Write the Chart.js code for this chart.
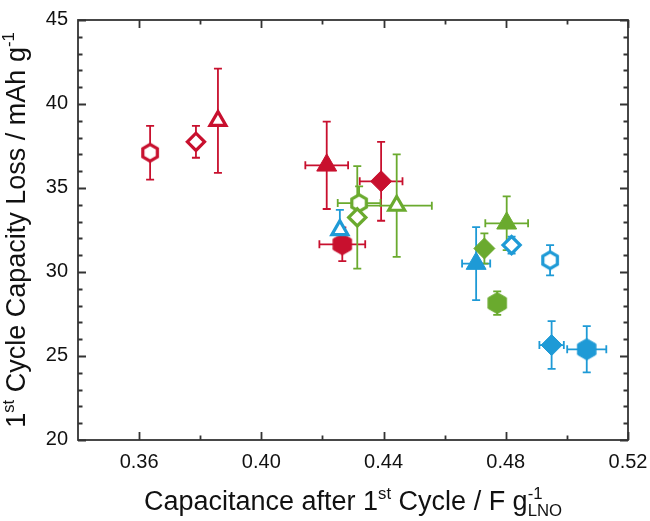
<!DOCTYPE html>
<html>
<head>
<meta charset="utf-8">
<script src="https://cdn.jsdelivr.net/npm/chart.js@4.4.1/dist/chart.umd.min.js"></script>
<style>
  html, body { margin: 0; padding: 0; background: #fff; }
  canvas { display: block; }
</style>
</head>
<body>
<canvas id="chart" width="650" height="521"></canvas>
<script>
// Order of the points inside every colour series:
// open hexagon, open diamond, open triangle, filled hexagon, filled diamond, filled triangle
const markerShapes = ['hexagon', 'diamond', 'triangle', 'hexagon', 'diamond', 'triangle'];
const markerFilled = [false, false, false, true, true, true];

const redX = [0.3636, 0.3786, 0.3858, 0.4265, 0.4392, 0.4214];
const redY = [37.1, 37.75, 39.0, 31.65, 35.4, 36.35];
const redXErr = [0, 0, 0, 0.0075, 0.007, 0.007];
const redYErr = [1.6, 0.95, 3.1, 1.0, 2.35, 2.6];

const greenX = [0.4320, 0.4314, 0.4443, 0.4772, 0.4730, 0.4803];
const greenY = [34.1, 33.25, 33.95, 28.15, 31.4, 32.9];
const greenXErr = [0.007, 0, 0.0115, 0, 0, 0.007];
const greenYErr = [1.0, 3.05, 3.05, 0.7, 0.9, 1.6];

const blueX = [0.4945, 0.4819, 0.4257, 0.5065, 0.4950, 0.4703];
const blueY = [30.7, 31.6, 32.5, 25.4, 25.65, 30.5];
const blueXErr = [0, 0, 0, 0.0064, 0.004, 0.0046];
const blueYErr = [0.9, 0.5, 1.2, 1.38, 1.42, 2.17];

// Axis ticks
const xTicks = [0.36, 0.40, 0.44, 0.48, 0.52];
const xTickLabels = ['0.36', '0.40', '0.44', '0.48', '0.52'];
const xMinorTicks = [0.38, 0.42, 0.46, 0.50];
const yTicks = [20, 25, 30, 35, 40, 45];
const yTickLabels = ['20', '25', '30', '35', '40', '45'];
const yMinorTicks = [21, 22, 23, 24, 26, 27, 28, 29, 31, 32, 33, 34, 36, 37, 38, 39, 41, 42, 43, 44];

const RED = '#c8102e';
const GREEN = '#6aaa2e';
const BLUE = '#1e9ad6';
const AXIS = '#333333';
const FONT = '"Liberation Sans", Arial, sans-serif';

// Chart.js has no hexagon, so build small canvases to use as pointStyle
function makeHexagon(color, filled) {
    const c = document.createElement('canvas');
    c.width = 24;
    c.height = 24;
    const g = c.getContext('2d');
    const r = filled ? 10.6 : 8.4;
    g.beginPath();
    for (let k = 0; k < 6; k++) {
        const a = -Math.PI / 2 + k * Math.PI / 3;
        const px = 12 + r * Math.cos(a), py = 12 + r * Math.sin(a);
        if (k === 0) g.moveTo(px, py); else g.lineTo(px, py);
    }
    g.closePath();
    g.fillStyle = filled ? color : '#ffffff';
    g.fill();
    g.lineWidth = filled ? 1 : 3.2;
    g.strokeStyle = color;
    g.stroke();
    return c;
}

function buildSeries(label, color, xs, ys, xErrs, yErrs) {
    const hexOpen = makeHexagon(color, false);
    const hexFilled = makeHexagon(color, true);
    return {
        label: label,
        errColor: color,
        data: xs.map((x, i) => ({ x: x, y: ys[i], xErr: xErrs[i], yErr: yErrs[i] })),
        pointStyle: markerShapes.map((s, i) => {
            if (s === 'hexagon') return markerFilled[i] ? hexFilled : hexOpen;
            return s === 'diamond' ? 'rectRot' : 'triangle';
        }),
        pointRadius: markerShapes.map((s, i) => {
            if (s === 'diamond') return markerFilled[i] ? 10.5 : 8.6;
            if (s === 'triangle') return markerFilled[i] ? 11.5 : 9.2;
            return 10;
        }),
        pointBackgroundColor: markerFilled.map(f => f ? color : '#ffffff'),
        pointBorderColor: color,
        pointBorderWidth: markerFilled.map(f => f ? 1 : 3.2),
        showLine: false,
        clip: false
    };
}

// Error bars, drawn under the markers
const errorBarsPlugin = {
    id: 'errorBars',
    beforeDatasetsDraw(chart) {
        const { ctx } = chart;
        const xs = chart.scales.x, ys = chart.scales.y;
        const cap = 4;
        chart.data.datasets.forEach(ds => {
            ctx.save();
            ctx.strokeStyle = ds.errColor;
            ctx.lineWidth = 1.8;
            ctx.beginPath();
            ds.data.forEach(p => {
                const px = xs.getPixelForValue(p.x);
                const py = ys.getPixelForValue(p.y);
                if (p.yErr) {
                    const top = ys.getPixelForValue(p.y + p.yErr);
                    const bot = ys.getPixelForValue(p.y - p.yErr);
                    ctx.moveTo(px, top); ctx.lineTo(px, bot);
                    ctx.moveTo(px - cap, top); ctx.lineTo(px + cap, top);
                    ctx.moveTo(px - cap, bot); ctx.lineTo(px + cap, bot);
                }
                if (p.xErr) {
                    const l = xs.getPixelForValue(p.x - p.xErr);
                    const r = xs.getPixelForValue(p.x + p.xErr);
                    ctx.moveTo(l, py); ctx.lineTo(r, py);
                    ctx.moveTo(l, py - cap); ctx.lineTo(l, py + cap);
                    ctx.moveTo(r, py - cap); ctx.lineTo(r, py + cap);
                }
            });
            ctx.stroke();
            ctx.restore();
        });
    }
};

// Text with super/subscripts. runs: {t}, {t, sup:true}, {sup, sub} stacked
function richWidth(ctx, runs, size) {
    let w = 0;
    runs.forEach(r => {
        if (r.sup !== undefined && r.sub !== undefined) {
            ctx.font = `${size * 0.62}px ${FONT}`;
            w += Math.max(ctx.measureText(r.sup).width, ctx.measureText(r.sub).width);
        } else {
            ctx.font = `${r.sup ? size * 0.62 : size}px ${FONT}`;
            w += ctx.measureText(r.t).width;
        }
    });
    return w;
}

function drawRich(ctx, runs, cx, baseY, size) {
    let x = cx - richWidth(ctx, runs, size) / 2;
    ctx.textAlign = 'left';
    ctx.textBaseline = 'alphabetic';
    runs.forEach(r => {
        if (r.sup !== undefined && r.sub !== undefined) {
            ctx.font = `${size * 0.62}px ${FONT}`;
            ctx.fillText(r.sup, x, baseY - size * 0.4);
            ctx.fillText(r.sub, x, baseY + size * 0.24);
            x += Math.max(ctx.measureText(r.sup).width, ctx.measureText(r.sub).width);
        } else if (r.sup) {
            ctx.font = `${size * 0.62}px ${FONT}`;
            ctx.fillText(r.t, x, baseY - size * 0.4);
            x += ctx.measureText(r.t).width;
        } else {
            ctx.font = `${size}px ${FONT}`;
            ctx.fillText(r.t, x, baseY);
            x += ctx.measureText(r.t).width;
        }
    });
}

// Boxed frame with inward ticks on all four sides, tick labels and titles
const framePlugin = {
    id: 'frame',
    afterDraw(chart) {
        const { ctx, chartArea: a } = chart;
        const xs = chart.scales.x, ys = chart.scales.y;
        const major = 8, minor = 4.5;
        ctx.save();
        ctx.strokeStyle = AXIS;
        ctx.lineWidth = 1.8;
        ctx.strokeRect(a.left, a.top, a.right - a.left, a.bottom - a.top);

        ctx.beginPath();
        const xTick = (v, len) => {
            const px = Math.round(xs.getPixelForValue(v)) + 0.5;
            ctx.moveTo(px, a.bottom); ctx.lineTo(px, a.bottom - len);
            ctx.moveTo(px, a.top); ctx.lineTo(px, a.top + len);
        };
        const yTick = (v, len) => {
            const py = Math.round(ys.getPixelForValue(v)) + 0.5;
            ctx.moveTo(a.left, py); ctx.lineTo(a.left + len, py);
            ctx.moveTo(a.right, py); ctx.lineTo(a.right - len, py);
        };
        xTicks.forEach(v => xTick(v, major));
        xMinorTicks.forEach(v => xTick(v, minor));
        yTicks.forEach(v => yTick(v, major));
        yMinorTicks.forEach(v => yTick(v, minor));
        ctx.stroke();

        ctx.fillStyle = '#111';
        ctx.font = `20px ${FONT}`;
        ctx.textAlign = 'center';
        ctx.textBaseline = 'middle';
        xTicks.forEach((v, i) => ctx.fillText(xTickLabels[i], xs.getPixelForValue(v), a.bottom + 22));
        ctx.textAlign = 'right';
        yTicks.forEach((v, i) => ctx.fillText(yTickLabels[i], a.left - 10, ys.getPixelForValue(v) - 1));

        drawRich(ctx, [
            { t: 'Capacitance after 1' }, { t: 'st', sup: true },
            { t: ' Cycle / F g' }, { sup: '-1', sub: 'LNO' }
        ], (a.left + a.right) / 2, 510, 27);

        ctx.save();
        ctx.translate(25, (a.top + a.bottom) / 2);
        ctx.rotate(-Math.PI / 2);
        drawRich(ctx, [
            { t: '1' }, { t: 'st', sup: true },
            { t: ' Cycle Capacity Loss / mAh g' }, { t: '-1', sup: true }
        ], 0, 0, 27);
        ctx.restore();
        ctx.restore();
    }
};

new Chart(document.getElementById('chart'), {
    type: 'scatter',
    data: {
        datasets: [
            buildSeries('blue', BLUE, blueX, blueY, blueXErr, blueYErr),
            buildSeries('red', RED, redX, redY, redXErr, redYErr),
            buildSeries('green', GREEN, greenX, greenY, greenXErr, greenYErr)
        ]
    },
    options: {
        responsive: false,
        animation: false,
        devicePixelRatio: 1,
        layout: { padding: { left: 78, right: 22, top: 20, bottom: 81 } },
        scales: {
            x: { type: 'linear', min: 0.34, max: 0.52, display: false },
            y: { type: 'linear', min: 20, max: 45, display: false }
        },
        plugins: {
            legend: { display: false },
            tooltip: { enabled: false }
        }
    },
    plugins: [errorBarsPlugin, framePlugin]
});
</script>
</body>
</html>
